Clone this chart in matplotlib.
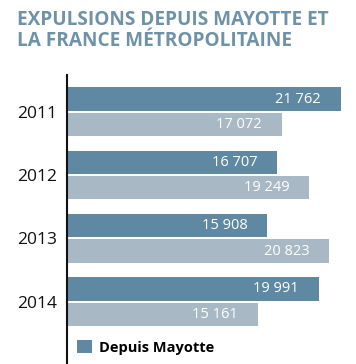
import matplotlib
matplotlib.use("Agg")
import matplotlib.pyplot as plt
import numpy as np

years = ["2011", "2012", "2013", "2014"]
mayotte = [21762, 16707, 15908, 19991]
metropole = [17072, 19249, 20823, 15161]
labels_mayotte = ["21 762", "16 707", "15 908", "19 991"]
labels_metropole = ["17 072", "19 249", "20 823", "15 161"]

W, H = 356, 364
fig = plt.figure(figsize=(W/100, H/100), dpi=100)
dark = "#5f89a2"
light = "#a8b9c5"
title_c = "#6e92a7"

ax_left, ax_top, ax_bottom = 67, 75, 364
ax = fig.add_axes([ax_left/W, 1-ax_bottom/H, (W-ax_left)/W, (ax_bottom-ax_top)/H])
pitch = 63.3
c0 = 111.75
ax.set_ylim((ax_bottom-c0)/pitch, -(c0-ax_top)/pitch)
scale = 274/21762
ax.set_xlim(0, (W-ax_left)/scale)

y = np.arange(len(years))
h = 0.37
b1 = ax.barh(y-0.2, mayotte, height=h, color=dark, label="Depuis Mayotte")
b2 = ax.barh(y+0.2, metropole, height=h, color=light)

pad = 20/scale
for yi, v, t in zip(y, mayotte, labels_mayotte):
    ax.text(v-pad, yi-0.2, t, color="white", ha="right", va="center", fontsize=10.5, family="Open Sans")
for yi, v, t in zip(y, metropole, labels_metropole):
    ax.text(v-pad, yi+0.2, t, color="white", ha="right", va="center", fontsize=10.5, family="Open Sans")

ax.set_yticks(y)
ax.set_yticklabels(years, fontsize=12.5, family="Open Sans", color="#111111")
ax.tick_params(axis="y", length=0, pad=7)
ax.set_xticks([])
for s in ["top", "right", "bottom"]:
    ax.spines[s].set_visible(False)
ax.spines["left"].set_linewidth(1.5)
ax.spines["left"].set_color("#111111")

leg = ax.legend(handles=[b1], loc="upper left", bbox_to_anchor=((80-ax_left)/(W-ax_left)-0.01, 1-(340-ax_top)/(ax_bottom-ax_top)),
                frameon=False, prop={"family": "Open Sans", "weight": "bold", "size": 10.5},
                handlelength=1.0, handleheight=1.0, handletextpad=0.5, borderaxespad=0, borderpad=0)

fig.text(17/W, 1-10/H, "EXPULSIONS DEPUIS MAYOTTE ET\nLA FRANCE MÉTROPOLITAINE", color=title_c,
         fontsize=13.7, fontweight="bold", family="Open Sans", ha="left", va="top", linespacing=1.1)

fig.savefig("out.png", dpi=100)
